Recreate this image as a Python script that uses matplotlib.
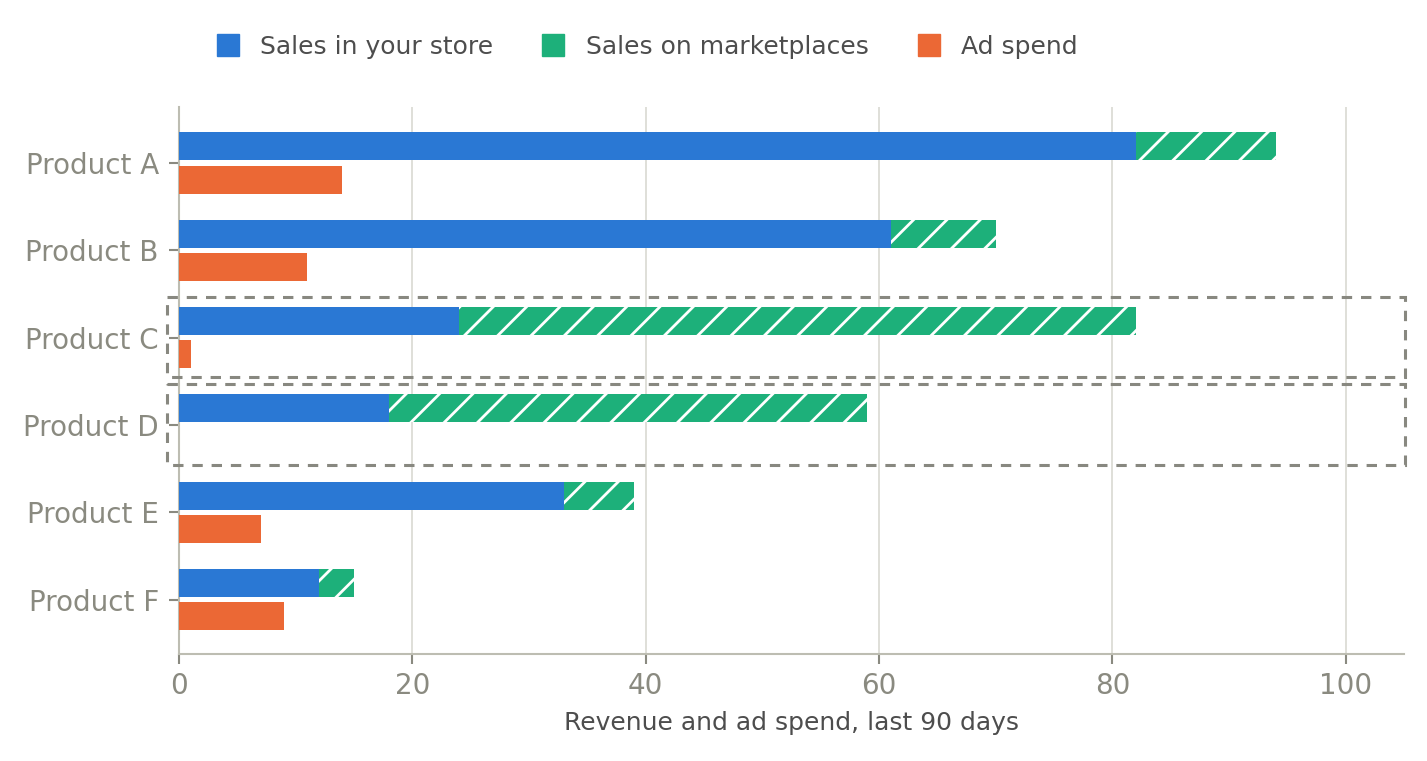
import numpy as np
import matplotlib
matplotlib.use("Agg")
import matplotlib.pyplot as plt
from matplotlib.patches import Rectangle
from matplotlib.lines import Line2D

# Data
products = ["Product A", "Product B", "Product C", "Product D", "Product E", "Product F"]
store_sales = [82, 61, 24, 18, 33, 12]
market_sales = [12, 9, 58, 41, 6, 3]
ad_spend = [14, 11, 1, 0, 7, 9]
highlighted = ["Product C", "Product D"]
x_ticks = [0, 20, 40, 60, 80, 100]

# Colours
blue = "#2a78d4"
green = "#1db07a"
orange = "#eb6835"
tick_grey = "#8a8a80"
spine_grey = "#bdbdb2"
text_dark = "#4d4d4d"

plt.rcParams["hatch.linewidth"] = 2.0

fig = plt.figure(figsize=(14.27, 7.61), dpi=100)
ax = fig.add_axes([0.1254, 0.1406, 0.8585, 0.7188])

y = np.arange(len(products))
h = 0.32
off = 0.19

ax.barh(y - off, store_sales, height=h, color=blue, zorder=3)
ax.barh(y - off, market_sales, left=store_sales, height=h, color=green,
        edgecolor="white", linewidth=0, hatch="/", zorder=3)
ax.barh(y + off, ad_spend, height=h, color=orange, zorder=3)

# dashed boxes around highlighted products
for name in highlighted:
    i = products.index(name)
    rect = Rectangle((-1.03, i - 0.47), 106.09, 0.925, fill=False,
                     edgecolor="#888880", linewidth=2.2,
                     linestyle=(0, (3.4, 2.9)), clip_on=False, zorder=4)
    ax.add_patch(rect)

ax.set_xlim(0, 105)
ax.set_ylim(5.62, -0.64)
ax.set_yticks(y)
ax.set_yticklabels(products)
ax.set_xticks(x_ticks)

ax.grid(axis="x", color="#dcdcd6", linewidth=1.3, zorder=0)
ax.set_axisbelow(True)
for s in ["top", "right"]:
    ax.spines[s].set_visible(False)
for s in ["left", "bottom"]:
    ax.spines[s].set_color(spine_grey)
    ax.spines[s].set_linewidth(1.5)

ax.tick_params(axis="both", colors=tick_grey, labelsize=20, length=7, width=1.5)
ax.tick_params(axis="y", pad=7.5)
ax.tick_params(axis="x", pad=6)

ax.set_xlabel("Revenue and ad spend, last 90 days", fontsize=18, color=text_dark, labelpad=8)

handles = [
    Line2D([], [], marker="s", linestyle="none", markersize=16, color=blue),
    Line2D([], [], marker="s", linestyle="none", markersize=16, color=green),
    Line2D([], [], marker="s", linestyle="none", markersize=16, color=orange),
]
labels = ["Sales in your store", "Sales on marketplaces", "Ad spend"]
leg = fig.legend(handles, labels, loc="center left", bbox_to_anchor=(0.135, 0.938),
                 ncol=3, frameon=False, fontsize=18, handlelength=1.0,
                 handletextpad=0.8, columnspacing=1.9)
for t in leg.get_texts():
    t.set_color(text_dark)

fig.savefig("out.png", dpi=100)
